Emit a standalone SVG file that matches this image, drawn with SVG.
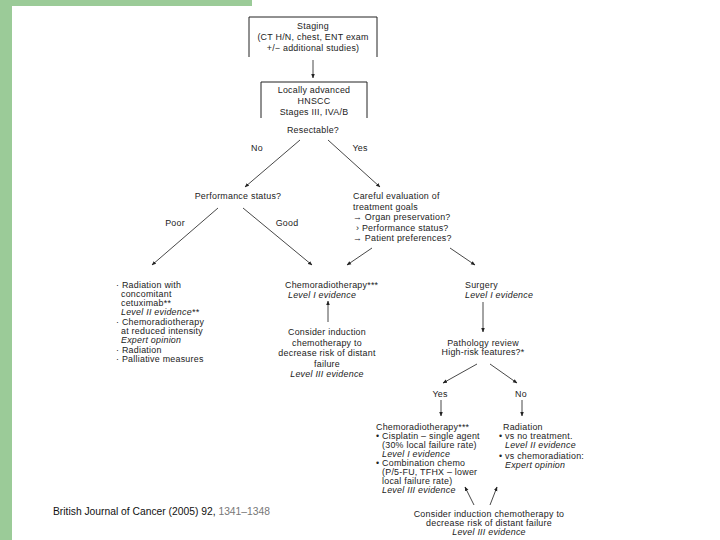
<svg xmlns="http://www.w3.org/2000/svg" width="720" height="540" viewBox="0 0 720 540">
<style>
text{font-family:"Liberation Sans",Arial,sans-serif;font-size:8.9px;letter-spacing:0.25px;fill:#222}
.c{text-anchor:middle}
.i{font-style:italic}
.ln{stroke:#333;stroke-width:0.9;fill:none}
.box{stroke:#222;stroke-width:1;fill:none}
.cit{font-size:10.3px;letter-spacing:0;fill:#111}
</style>
<defs>
<marker id="ah" viewBox="0 0 10 10" refX="9" refY="5" markerWidth="5" markerHeight="5" orient="auto">
<path d="M0,1 L10,5 L0,9 z" fill="#222"/>
</marker>
</defs>
<rect x="0" y="0" width="252" height="6" fill="#9bcb98"/>
<rect x="0" y="0" width="12" height="540" fill="#9bcb98"/>

<g id="staging">
<path class="box" d="M249,57 V17 H377 V57"/>
<text class="c" x="313" y="29">Staging</text>
<text class="c" x="313" y="40">(CT H/N, chest, ENT exam</text>
<text class="c" x="313" y="51">+/− additional studies)</text>
</g>
<g id="locally-advanced">
<path class="box" d="M261,118 V82 H367 V118"/>
<text class="c" x="314" y="93">Locally advanced</text>
<text class="c" x="314" y="104">HNSCC</text>
<text class="c" x="314" y="115">Stages III, IVA/B</text>
</g>
<g id="resectable">
<text class="c" x="313" y="133">Resectable?</text>
</g>
<g id="performance">
<text class="c" x="238" y="199">Performance status?</text>
</g>
<g id="careful">
<text x="353" y="199">Careful evaluation of</text>
<text x="353" y="210">treatment goals</text>
<text x="353" y="220">→ Organ preservation?</text>
<text x="356" y="231">› Performance status?</text>
<text x="353" y="241">→ Patient preferences?</text>
</g>
<g id="poor-options">
<text x="116" y="288">· Radiation with</text>
<text x="121" y="297">concomitant</text>
<text x="121" y="306">cetuximab**</text>
<text class="i" x="121" y="315">Level II evidence**</text>
<text x="116" y="325">· Chemoradiotherapy</text>
<text x="121" y="334">at reduced intensity</text>
<text class="i" x="121" y="343">Expert opinion</text>
<text x="116" y="353">· Radiation</text>
<text x="116" y="362">· Palliative measures</text>
</g>
<g id="chemoradio-good">
<text x="285" y="288">Chemoradiotherapy***</text>
<text class="i" x="288" y="298">Level I evidence</text>
</g>
<g id="induction-1">
<text class="c" x="327" y="335">Consider induction</text>
<text class="c" x="327" y="346">chemotherapy to</text>
<text class="c" x="327" y="356">decrease risk of distant</text>
<text class="c" x="327" y="367">failure</text>
<text class="c i" x="327" y="377">Level III evidence</text>
</g>
<g id="surgery">
<text x="465" y="288">Surgery</text>
<text class="i" x="465" y="298">Level I evidence</text>
</g>
<g id="pathology">
<text class="c" x="483" y="346">Pathology review</text>
<text class="c" x="483" y="355">High-risk features?*</text>
</g>
<g id="chemoradio-yes">
<text x="376" y="430">Chemoradiotherapy***</text>
<text x="376" y="439">• Cisplatin – single agent</text>
<text x="382" y="448">(30% local failure rate)</text>
<text class="i" x="382" y="457">Level I evidence</text>
<text x="376" y="466">• Combination chemo</text>
<text x="382" y="475">(P/5-FU, TFHX – lower</text>
<text x="382" y="484">local failure rate)</text>
<text class="i" x="382" y="493">Level III evidence</text>
</g>
<g id="radiation-no">
<text x="503" y="430">Radiation</text>
<text x="499" y="439">• vs no treatment.</text>
<text class="i" x="505" y="448">Level II evidence</text>
<text x="499" y="459">• vs chemoradiation:</text>
<text class="i" x="505" y="468">Expert opinion</text>
</g>
<g id="induction-2">
<text class="c" x="489" y="517">Consider induction chemotherapy to</text>
<text class="c" x="489" y="526">decrease risk of distant failure</text>
<text class="c i" x="489" y="535">Level III evidence</text>
</g>
<g id="citation">
<text class="cit" x="53" y="515">British Journal of Cancer (2005) 92, <tspan fill="#777">1341–1348</tspan></text>
</g>

<g id="connectors">
<line class="ln" x1="313" y1="60" x2="313" y2="78" marker-end="url(#ah)"/>
<line class="ln" x1="300" y1="140" x2="245" y2="187" marker-end="url(#ah)"/>
<line class="ln" x1="328" y1="140" x2="380" y2="187" marker-end="url(#ah)"/>
<text class="c" x="257" y="151">No</text>
<text class="c" x="360" y="151">Yes</text>
<line class="ln" x1="218" y1="208" x2="152" y2="265" marker-end="url(#ah)"/>
<line class="ln" x1="243" y1="208" x2="312" y2="265" marker-end="url(#ah)"/>
<text class="c" x="175" y="226">Poor</text>
<text class="c" x="287" y="226">Good</text>
<line class="ln" x1="372" y1="248" x2="347" y2="265" marker-end="url(#ah)"/>
<line class="ln" x1="450" y1="248" x2="475" y2="265" marker-end="url(#ah)"/>
<line class="ln" x1="328" y1="322" x2="328" y2="301" marker-end="url(#ah)"/>
<line class="ln" x1="483" y1="302" x2="483" y2="332" marker-end="url(#ah)"/>
<line class="ln" x1="477" y1="364" x2="443" y2="383" marker-end="url(#ah)"/>
<line class="ln" x1="490" y1="364" x2="517" y2="383" marker-end="url(#ah)"/>
<text class="c" x="440" y="397">Yes</text>
<text class="c" x="521" y="397">No</text>
<line class="ln" x1="441" y1="400" x2="441" y2="416" marker-end="url(#ah)"/>
<line class="ln" x1="522" y1="400" x2="522" y2="416" marker-end="url(#ah)"/>
<line class="ln" x1="474" y1="505" x2="465" y2="487" marker-end="url(#ah)"/>
<line class="ln" x1="490" y1="505" x2="497" y2="487" marker-end="url(#ah)"/>
</g>
</svg>
